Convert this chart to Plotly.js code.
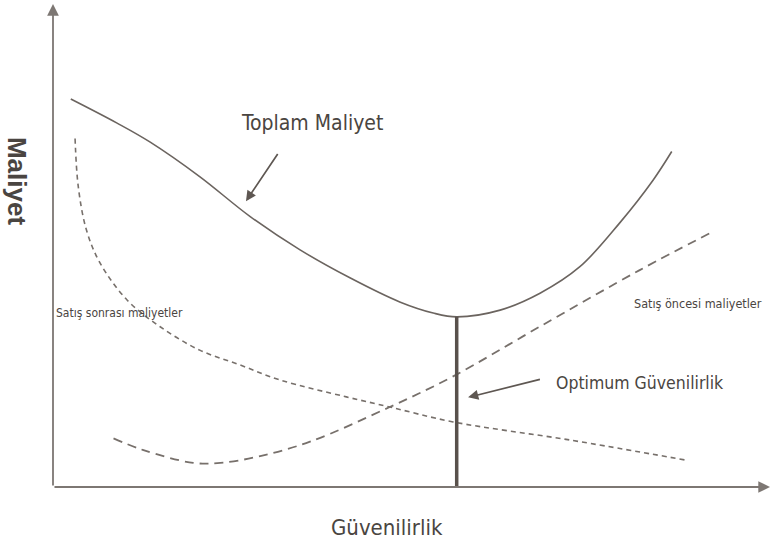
<!DOCTYPE html>
<html>
<head>
<meta charset="utf-8">
<script src="https://cdn.plot.ly/plotly-3.0.1.min.js"></script>
<style>
  html, body { margin: 0; padding: 0; background: #fff; }
  #chart { width: 771px; height: 550px; }
</style>
</head>
<body>
<div id="chart"></div>
<script>
// Güvenilirlik (0–100) vs Maliyet (0–100), schematic cost curves
var toplamX = [2.5, 9.0, 13.6, 20.6, 27.7, 34.7, 41.7, 48.7, 53.4, 56.7, 62.8, 68.4, 74.0, 79.6, 84.3, 86.9];
var toplamY = [80.5, 75.5, 71.6, 64.4, 56.1, 49.2, 43.4, 38.4, 36.1, 35.3, 36.7, 40.2, 45.7, 54.8, 63.7, 69.6];

var sonrasiX = [3.1, 3.55, 4.7, 6.6, 10.4, 15.0, 20.6, 26.3, 31.9, 41.2, 47.3, 56.2, 72.6, 88.8];
var sonrasiY = [72.3, 62.3, 53.3, 46.5, 38.8, 33.3, 28.4, 25.3, 22.2, 18.7, 16.6, 13.5, 9.75, 5.6];

var oncesiX = [8.5, 12.6, 19.7, 23.5, 29.1, 36.1, 47.3, 56.0, 68.4, 82.4, 92.7];
var oncesiY = [10.1, 7.7, 5.0, 5.0, 6.4, 9.4, 16.6, 22.8, 33.3, 45.0, 53.0];

var labels = {
  toplam: 'Toplam Maliyet',
  sonrasi: 'Satış sonrası maliyetler',
  oncesi: 'Satış öncesi maliyetler',
  optimum: 'Optimum Güvenilirlik',
  xTitle: 'Güvenilirlik',
  yTitle: 'Maliyet'
};

// optimum point = lowest total cost
var minIdx = toplamY.indexOf(Math.min.apply(null, toplamY));
var optX = toplamX[minIdx];
var optY = toplamY[minIdx];

var narrow = 'DejaVu Sans Condensed, Liberation Sans Narrow, Arial Narrow, sans-serif';
var textCol = '#4a4541';
var lineCol = '#6b645f';
var axisCol = '#7d7773';

var traces = [
  { x: toplamX, y: toplamY, mode: 'lines', line: { shape: 'spline', smoothing: 1, color: lineCol, width: 1.6 }, hoverinfo: 'skip' },
  { x: sonrasiX, y: sonrasiY, mode: 'lines', line: { shape: 'spline', smoothing: 1, color: '#77706b', width: 1.6, dash: '5px,4px' }, hoverinfo: 'skip' },
  { x: oncesiX, y: oncesiY, mode: 'lines', line: { shape: 'spline', smoothing: 1, color: '#77706b', width: 1.8, dash: '9px,6px' }, hoverinfo: 'skip' },
  { x: [optX, optX], y: [0, optY], mode: 'lines', line: { color: '#59514c', width: 3.5 }, hoverinfo: 'skip' }
];

var hidden = { range: [0, 100], showline: false, showgrid: false, zeroline: false, showticklabels: false, ticks: '', fixedrange: true };

var annotations = [
  // axes with arrowheads
  { xref: 'paper', yref: 'paper', x: 0, y: 1.002, ax: 0, ay: 483, axref: 'pixel', ayref: 'pixel', text: '', showarrow: true, arrowhead: 2, arrowsize: 1.3, arrowwidth: 1.8, arrowcolor: axisCol },
  { xref: 'paper', yref: 'paper', x: 1.007, y: 0, ax: -717, ay: 0, axref: 'pixel', ayref: 'pixel', text: '', showarrow: true, arrowhead: 2, arrowsize: 1.3, arrowwidth: 1.8, arrowcolor: axisCol },
  // axis titles
  { xref: 'paper', yref: 'paper', x: 0.469, y: -0.083, xanchor: 'center', yanchor: 'middle', text: labels.xTitle, showarrow: false, font: { family: narrow, size: 22, color: textCol } },
  { xref: 'paper', yref: 'paper', x: -0.0506, y: 0.635, xanchor: 'center', yanchor: 'middle', text: labels.yTitle, textangle: 90, showarrow: false, font: { family: 'Liberation Sans, Arial, sans-serif', size: 26, weight: 'bold', color: textCol } },
  // curve labels
  { x: 36.4, y: 75.5, text: labels.toplam, showarrow: false, font: { family: narrow, size: 21, color: textCol } },
  { x: 27.1, y: 59.3, ax: 31.7, ay: 69.4, axref: 'x', ayref: 'y', text: '', showarrow: true, arrowhead: 2, arrowsize: 1.2, arrowwidth: 1.7, arrowcolor: '#5e5752' },
  { x: 82.4, y: 21.6, text: labels.optimum, showarrow: false, font: { family: narrow, size: 17.5, color: textCol } },
  { x: 58.3, y: 18.6, ax: 68.6, ay: 22.4, axref: 'x', ayref: 'y', text: '', showarrow: true, arrowhead: 2, arrowsize: 1.2, arrowwidth: 1.7, arrowcolor: '#5e5752' },
  { x: 90.6, y: 38.0, text: labels.oncesi, showarrow: false, font: { family: narrow, size: 12.5, color: textCol } },
  { x: 9.4, y: 36.1, text: labels.sonrasi, showarrow: false, font: { family: narrow, size: 12, color: textCol } }
];

var layout = {
  width: 771, height: 550,
  margin: { l: 53, r: 6, t: 5, b: 63 },
  paper_bgcolor: '#ffffff', plot_bgcolor: '#ffffff',
  showlegend: false,
  xaxis: hidden,
  yaxis: hidden,
  annotations: annotations
};

Plotly.newPlot('chart', traces, layout, { displayModeBar: false, staticPlot: true });
</script>
</body>
</html>
